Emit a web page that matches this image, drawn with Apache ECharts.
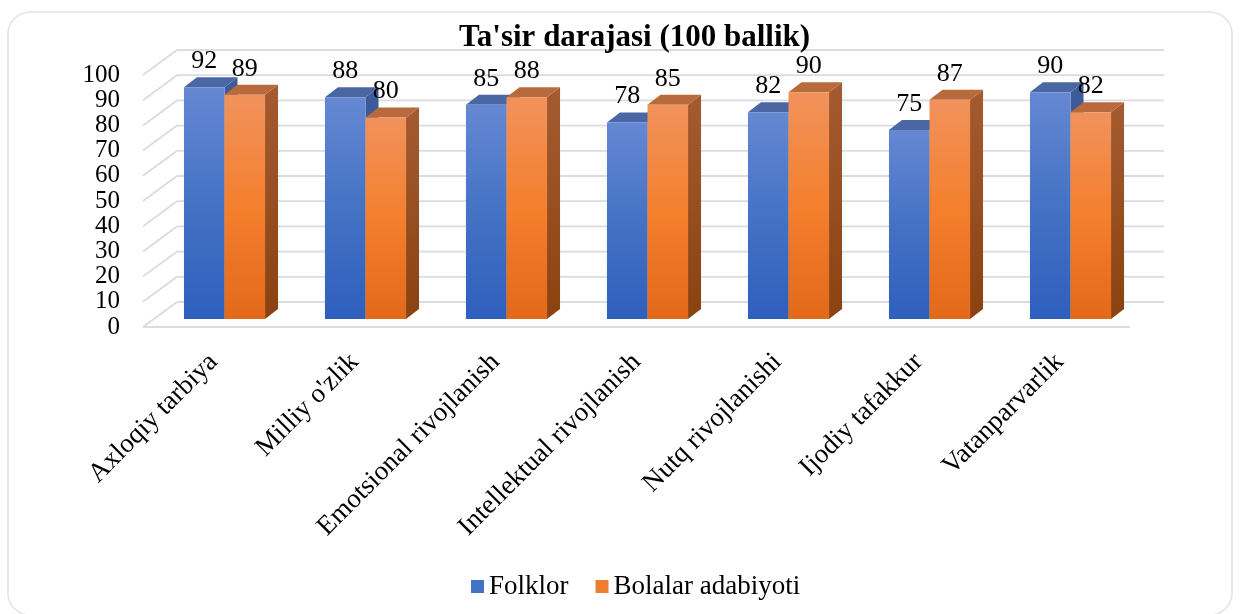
<!DOCTYPE html>
<html><head><meta charset="utf-8">
<script src="https://cdn.jsdelivr.net/npm/echarts@6/dist/echarts.min.js"></script>
<style>html,body{margin:0;padding:0;background:#fff}#c{width:1240px;height:614px}</style>
</head><body><div id="c"></div>
<script>
const categories = ["Axloqiy tarbiya","Milliy o'zlik","Emotsional rivojlanish","Intellektual rivojlanish","Nutq rivojlanishi","Ijodiy tafakkur","Vatanparvarlik"];
const folklor = [92,88,85,78,82,75,90];
const bolalar = [89,80,88,85,90,87,82];
const seriesNames = ["Folklor","Bolalar adabiyoti"];
const yTicks = [0,10,20,30,40,50,60,70,80,90,100];
const titleText = "Ta'sir darajasi (100 ballik)";

const FONT = "'Liberation Serif','Times New Roman',serif";
const LG = echarts.graphic.LinearGradient;
const palettes = [
  {front:['#6688d3','#4472c4','#2f5fbd'], top:'#4a67a3', side:['#3f5c9a','#2c4a86'], legend:'#4472c4'},
  {front:['#f1925c','#f47f2d','#e2691a'], top:'#b96a3c', side:['#a45b31','#8b4210'], legend:'#ed7d31'}
];
// depth offsets (px) relative to bar plane
const BACK = [23,-17], FRONT = [-11,8], BARD = [13,-10];

function renderWall(params, api){
  const v = api.value(1);
  const cs = params.coordSys;
  const y = api.coord([0, v])[1];
  const x0 = cs.x, x1 = cs.x + cs.width;
  const st = {stroke:'#d9dce3', lineWidth:1.8};
  const ch = [
    {type:'line', shape:{x1:x0+BACK[0], y1:y+BACK[1], x2:x1+BACK[0], y2:y+BACK[1]}, style:st},
    {type:'line', shape:{x1:x0+FRONT[0], y1:y+FRONT[1], x2:x0+BACK[0], y2:y+BACK[1]}, style:st}
  ];
  if (v === 0) ch.push({type:'line', shape:{x1:x0+FRONT[0], y1:y+FRONT[1], x2:x1+FRONT[0], y2:y+FRONT[1]}, style:{stroke:'#d9dce3', lineWidth:2.2}});
  return {type:'group', children:ch, silent:true};
}

function barRenderer(si){
  const p = palettes[si];
  return function(params, api){
    const ci = api.value(0), v = api.value(1);
    const t = api.coord([ci, v]);
    const b = api.coord([ci, 0]);
    const band = api.size([1, 0])[0];
    const bw = band * 0.2875;
    const x = si === 0 ? t[0] - bw : t[0];
    const yT = t[1], yB = b[1];
    const dx = BARD[0], dy = BARD[1];
    return {type:'group', children:[
      {type:'polygon', shape:{points:[[x+bw,yB],[x+bw+dx,yB+dy],[x+bw+dx,yT+dy],[x+bw,yT]]},
        style:{fill:new LG(0,0,0,1,[{offset:0,color:p.side[0]},{offset:1,color:p.side[1]}])}},
      {type:'polygon', shape:{points:[[x,yT],[x+dx,yT+dy],[x+bw+dx,yT+dy],[x+bw,yT]]}, style:{fill:p.top}},
      {type:'rect', shape:{x:x, y:yT, width:bw, height:yB-yT},
        style:{fill:new LG(0,0,0,1,[{offset:0,color:p.front[0]},{offset:0.5,color:p.front[1]},{offset:1,color:p.front[2]}])}},
      {type:'text', z2:100, x:x+bw/2, y:yT+dy-3, style:{text:String(v), x:0, y:0, textAlign:'center', align:'center',
        textVerticalAlign:'bottom', verticalAlign:'bottom', fontSize:26, fontFamily:FONT, fill:'#000'}}
    ]};
  };
}

const chart = echarts.init(document.getElementById('c'), null, {renderer:'canvas'});
chart.setOption({
  animation:false,
  backgroundColor:'#fff',
  title:{text:titleText, left:454, top:17, textStyle:{fontSize:31, fontWeight:'bold', fontFamily:FONT, color:'#000'}},
  legend:{data:seriesNames, left:466, top:568, itemWidth:13, itemHeight:13, itemGap:27, icon:'rect',
    textStyle:{fontSize:27, fontFamily:FONT, color:'#000'}},
  graphic:[{type:'rect', z:-1, silent:true, shape:{x:8, y:12, width:1224, height:603, r:22},
    style:{fill:'none', stroke:'#e0e3e8', lineWidth:1.5}}],
  grid:[
    {left:154, right:99, top:67, bottom:295},
    {left:143, right:110, top:75, bottom:287}
  ],
  xAxis:[
    {type:'category', gridIndex:0, data:categories, show:false},
    {type:'category', gridIndex:1, data:categories, axisLine:{show:false}, axisTick:{show:false},
      axisLabel:{rotate:45, margin:31, interval:0, fontSize:27, fontFamily:FONT, color:'#000'}}
  ],
  yAxis:[
    {type:'value', gridIndex:0, min:0, max:100, interval:10, show:false, splitLine:{show:false}},
    {type:'value', gridIndex:1, min:0, max:100, interval:10, axisLine:{show:false}, axisTick:{show:false},
      splitLine:{show:false}, axisLabel:{margin:23, padding:[6,0,0,0], fontSize:25, fontFamily:FONT, color:'#000'}}
  ],
  series:[
    {type:'custom', name:'_wall', xAxisIndex:0, yAxisIndex:0, renderItem:renderWall, data:yTicks.map(v=>[0,v]), z:1, silent:true},
    {type:'custom', name:seriesNames[0], xAxisIndex:0, yAxisIndex:0, renderItem:barRenderer(0),
      itemStyle:{color:palettes[0].legend}, data:folklor.map((v,i)=>[i,v]), z:3},
    {type:'custom', name:seriesNames[1], xAxisIndex:0, yAxisIndex:0, renderItem:barRenderer(1),
      itemStyle:{color:palettes[1].legend}, data:bolalar.map((v,i)=>[i,v]), z:4}
  ]
});
</script>
</body></html>
